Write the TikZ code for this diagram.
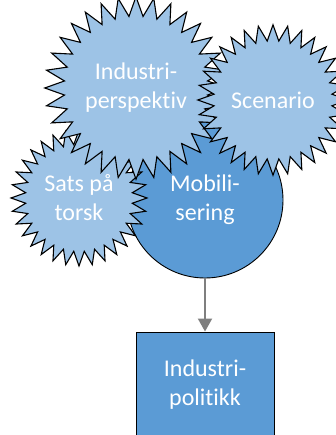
\documentclass[tikz,border=0pt]{standalone}
\usepackage{fontspec}
\setmainfont{Carlito}[Ligatures={NoCommon,NoContextual}]
\usetikzlibrary{shapes.geometric,arrows.meta}
\definecolor{burstblue}{HTML}{9DC3E6}
\definecolor{coreblue}{HTML}{5B9BD5}
\definecolor{linkgray}{HTML}{7F7F7F}
\tikzset{
  label text/.style={text=white, font=\fontsize{24}{29}\selectfont, align=center},
  burst/.style={star, star points=32, star point ratio=1.27, inner sep=0pt,
    draw=black, line width=1.1pt, fill=burstblue, minimum size=#1, label text},
  hub/.style={circle, draw=black, line width=0.9pt, fill=coreblue, inner sep=0pt,
    minimum size=156pt, label text},
  outcome/.style={rectangle, draw=black, line width=0.9pt, fill=coreblue,
    minimum width=138pt, minimum height=105pt, label text},
  link/.style={draw=linkgray, line width=2pt, -{Triangle[width=14pt,length=13pt]}}
}
\begin{document}
\begin{tikzpicture}[x=1pt, y=1pt]
  \useasboundingbox (0,0) rectangle (336,435);
  % central circle and the resulting policy box
  \node[hub] (mob) at (205,235) {Mobili-\\sering};
  \node[outcome] (pol) at (205,50.5) {Industri-\\politikk};
  \draw[link] (mob.south) -- (pol.north);
  % the three surrounding bursts
  \node[burst=136pt] (sats) at (79,237) {Sats på\\torsk};
  \node[burst=158pt] (ind) at (136,347) {Industri-\\perspektiv};
  \node[burst=136pt] (scen) at (273,335) {Scenario};
\end{tikzpicture}
\end{document}
